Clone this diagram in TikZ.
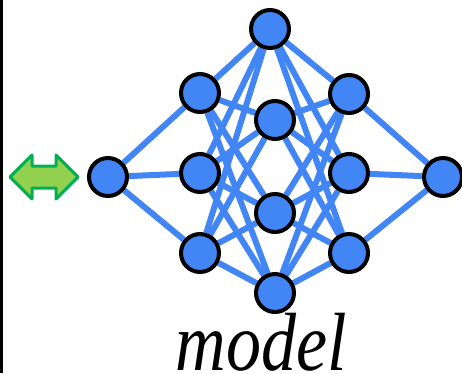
\documentclass[tikz,border=0pt]{standalone}
\usepackage{fontspec}
\newfontfamily\labelfont{Liberation Serif}
\definecolor{netblue}{RGB}{66,133,244}
\definecolor{arrowfill}{RGB}{146,208,80}
\definecolor{arrowline}{RGB}{0,176,80}
\usetikzlibrary{backgrounds}

\begin{document}
\begin{tikzpicture}[x=1pt,y=-1pt,
    neuron/.style={circle,draw=black,fill=netblue,line width=4pt,minimum size=38pt,inner sep=0pt},
    link/.style={netblue,line width=6pt}]
  \useasboundingbox (0,0) rectangle (462,373);
  \draw[line width=3pt] (1.5,0) -- (1.5,373);
  % neurons, layer by layer
  \foreach \n/\x/\y in {i/108/177, a1/200/93, a2/200/173, a3/200/253,
                        b1/270/29, b2/275/120, b3/275/213, b4/275/293,
                        c1/349/94, c2/349/173, c3/349/253, o/443/177} {
    \node[neuron] (\n) at (\x,\y) {};
  }
  \begin{pgfonlayer}{background}
    \foreach \a in {1,2,3} {
      \draw[link] (i) -- (a\a);
      \draw[link] (c\a) -- (o);
      \foreach \b in {1,...,4} {
        \draw[link] (a\a) -- (b\b);
        \draw[link] (b\b) -- (c\a);
      }
    }
  \end{pgfonlayer}
  % in/out arrow
  \draw[arrowline,fill=arrowfill,line width=3pt,line join=round]
    (10,177) -- (32,155) -- (32,166) -- (56,166) -- (56,155) -- (78,177)
    -- (56,199) -- (56,188) -- (32,188) -- (32,199) -- cycle;
  \node[font=\labelfont\fontsize{70}{70}\selectfont\itshape,anchor=base,inner sep=0pt] (label) at (261,370) {\scalebox{1}[1.18]{model}};
\end{tikzpicture}
\end{document}
